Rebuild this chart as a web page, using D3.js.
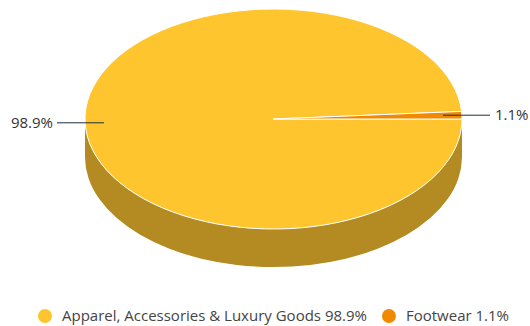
<!DOCTYPE html>
<html>
<head>
<meta charset="utf-8">
<script src="https://cdn.jsdelivr.net/npm/d3@7"></script>
<style>
  body { margin: 0; background: #fff; }
  text { font-family: "Open Sans", sans-serif; }
</style>
</head>
<body>
<div id="chart"></div>
<script>
// data
var categories = ["Apparel, Accessories & Luxury Goods", "Footwear"];
var shares = [98.9, 1.1];
var labels = ["98.9%", "1.1%"];
var topColors = ["#ffc52e", "#f08a00"];
var sideColors = ["#b38b22", "#a86000"];

var svgWidth = 530;
var svgHeight = 326;

var cx = 273.5, cy = 119;
var rx = 188.5, ry = 110;
var depth = 38;

var svg = d3.select("#chart")
  .append("svg")
  .attr("width", svgWidth)
  .attr("height", svgHeight);

// angles measured clockwise from 3 o'clock
var pie = d3.pie().sort(null).startAngle(0).endAngle(2 * Math.PI);
var arcs = pie(shares);

function px(t, k) { return cx + (k || 1) * rx * Math.cos(t); }
function py(t, k) { return cy + (k || 1) * ry * Math.sin(t); }

function topPath(a0, a1) {
  var large = (a1 - a0) > Math.PI ? 1 : 0;
  return "M" + cx + "," + cy +
    "L" + px(a0) + "," + py(a0) +
    "A" + rx + "," + ry + " 0 " + large + " 1 " + px(a1) + "," + py(a1) + "Z";
}

function sidePath(a0, a1) {
  // only the front half (0..PI) is visible
  var s = Math.max(a0, 0), e = Math.min(a1, Math.PI);
  if (e <= s) return null;
  return "M" + px(s) + "," + py(s) +
    "A" + rx + "," + ry + " 0 0 1 " + px(e) + "," + py(e) +
    "L" + px(e) + "," + (py(e) + depth) +
    "A" + rx + "," + ry + " 0 0 0 " + px(s) + "," + (py(s) + depth) + "Z";
}

var sides = svg.append("g");
arcs.forEach(function(d, i) {
  var p = sidePath(d.startAngle, d.endAngle);
  if (p) sides.append("path").attr("d", p).attr("fill", sideColors[i]);
});

svg.append("g").selectAll("path")
  .data(arcs)
  .enter()
  .append("path")
  .attr("d", d => topPath(d.startAngle, d.endAngle))
  .attr("fill", (d, i) => topColors[i])
  .attr("stroke", "#fff")
  .attr("stroke-width", 1)
  .attr("stroke-linejoin", "round");

// data labels with connectors
var labelGroup = svg.append("g");
arcs.forEach(function(d, i) {
  var mid = (d.startAngle + d.endAngle) / 2;
  var right = Math.cos(mid) >= 0;
  var y = py(mid);
  var x0 = px(mid, 0.9);
  var x1 = right ? cx + rx + 28 : cx - rx - 28;
  labelGroup.append("line")
    .attr("x1", x0).attr("y1", y)
    .attr("x2", x1).attr("y2", y)
    .attr("stroke", "#1f2d3a")
    .attr("stroke-width", 1);
  labelGroup.append("text")
    .attr("x", right ? x1 + 5 : x1 - 4)
    .attr("y", y)
    .attr("dy", "0.35em")
    .attr("text-anchor", right ? "start" : "end")
    .attr("font-size", "15px")
    .attr("fill", "#333")
    .text(labels[i]);
});

// legend
var legend = svg.append("g");
var xPos = 0;
categories.forEach(function(c, i) {
  var g = legend.append("g");
  g.append("circle")
    .attr("cx", 7).attr("cy", 0).attr("r", 7)
    .attr("fill", topColors[i]);
  var t = g.append("text")
    .attr("x", 24).attr("y", 0).attr("dy", "0.35em")
    .attr("font-size", "15px")
    .attr("fill", "#444")
    .text(c + " " + labels[i]);
  var w = 24 + t.node().getComputedTextLength();
  g.attr("transform", "translate(" + xPos + ",0)");
  xPos += w + 15;
});
var legendWidth = xPos - 15;
legend.attr("transform", "translate(" + (cx - legendWidth / 2) + ",316)");
</script>
</body>
</html>
